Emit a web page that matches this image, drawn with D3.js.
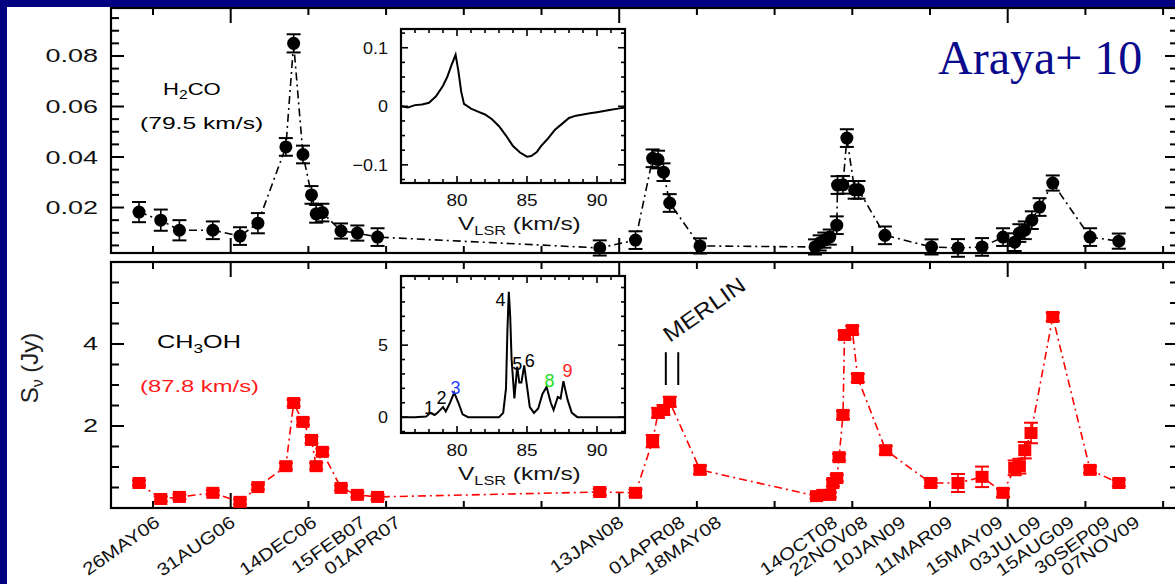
<!DOCTYPE html>
<html><head><meta charset="utf-8">
<script src="https://cdn.jsdelivr.net/npm/d3@7"></script>
<style>
html,body{margin:0;padding:0;background:#fff;width:1175px;height:584px;overflow:hidden;}
svg{display:block;position:absolute;left:0;top:0}
text{font-family:"Liberation Sans",Arial,Helvetica,sans-serif}
text.serif{font-family:"Liberation Serif","Times New Roman",serif}
</style></head><body>
<svg id="c" width="1175" height="584"></svg>
<script>
// ---------------- data ----------------
const h2coDates = ["2006-05-08","2006-06-05","2006-06-29","2006-08-11","2006-09-15","2006-10-08","2006-11-13","2006-11-23","2006-12-05","2006-12-16","2006-12-22","2006-12-30","2007-01-23","2007-02-13","2007-03-11","2007-12-22","2008-02-06","2008-02-28","2008-03-06","2008-03-13","2008-03-21","2008-04-29","2008-09-24","2008-09-30","2008-10-06","2008-10-13","2008-10-22","2008-10-23","2008-10-30","2008-11-04","2008-11-14","2008-11-19","2008-12-23","2009-02-21","2009-03-27","2009-04-27","2009-05-24","2009-06-08","2009-06-14","2009-06-21","2009-06-30","2009-07-10","2009-07-27","2009-09-13","2009-10-20"];
const h2coFlux = [0.0182,0.0150,0.0110,0.0110,0.0087,0.0138,0.0440,0.0850,0.0410,0.0250,0.0175,0.0180,0.0107,0.0099,0.0083,0.0040,0.0071,0.0395,0.0390,0.0340,0.0218,0.0048,0.0044,0.0060,0.0071,0.0083,0.0130,0.0289,0.0290,0.0475,0.0270,0.0270,0.0090,0.0044,0.0040,0.0044,0.0083,0.0063,0.0099,0.0110,0.0150,0.0202,0.0297,0.0083,0.0067];
const h2coErr  = [0.004,0.0042,0.004,0.0035,0.0035,0.004,0.0035,0.0036,0.0035,0.0035,0.0035,0.0035,0.003,0.003,0.0035,0.003,0.0035,0.0035,0.0035,0.0035,0.0035,0.003,0.003,0.003,0.003,0.003,0.0035,0.0035,0.0035,0.0035,0.0035,0.0035,0.0035,0.003,0.0035,0.0035,0.0035,0.0035,0.0035,0.0035,0.0035,0.0035,0.003,0.0035,0.003];

const ch3ohDates = ["2006-05-08","2006-06-05","2006-06-29","2006-08-11","2006-09-15","2006-10-08","2006-11-13","2006-11-23","2006-12-05","2006-12-16","2006-12-22","2006-12-30","2007-01-23","2007-02-13","2007-03-11","2007-12-22","2008-02-06","2008-02-28","2008-03-06","2008-03-13","2008-03-21","2008-04-29","2008-09-26","2008-10-04","2008-10-13","2008-10-17","2008-10-22","2008-10-25","2008-10-30","2008-11-01","2008-11-11","2008-11-18","2008-12-24","2009-02-20","2009-03-27","2009-04-27","2009-05-24","2009-06-08","2009-06-14","2009-06-21","2009-06-29","2009-07-27","2009-09-13","2009-10-20"];
const ch3ohFlux = [0.61,0.22,0.27,0.37,0.15,0.51,1.02,2.56,2.10,1.66,1.02,1.37,0.49,0.32,0.27,0.39,0.37,1.63,2.32,2.39,2.59,0.93,0.29,0.32,0.32,0.61,0.73,1.24,2.27,4.22,4.34,3.17,1.41,0.61,0.61,0.76,0.37,0.98,1.02,1.41,1.83,4.66,0.93,0.61];
const ch3ohErr  = [0.06,0.06,0.06,0.06,0.06,0.06,0.08,0.08,0.08,0.08,0.08,0.08,0.06,0.06,0.06,0.08,0.08,0.15,0.12,0.12,0.12,0.1,0.06,0.06,0.06,0.08,0.08,0.08,0.1,0.1,0.1,0.1,0.1,0.08,0.22,0.25,0.1,0.18,0.18,0.2,0.25,0.1,0.08,0.08];

const dateLabels = ["26MAY06","31AUG06","14DEC06","15FEB07","01APR07","13JAN08","01APR08","18MAY08","14OCT08","22NOV08","10JAN09","11MAR09","15MAY09","03JUL09","15AUG09","30SEP09","07NOV09"];
const dateLabelDates = ["2006-05-26","2006-08-31","2006-12-14","2007-02-15","2007-04-01","2008-01-13","2008-04-01","2008-05-18","2008-10-14","2008-11-22","2009-01-10","2009-03-11","2009-05-15","2009-07-03","2009-08-15","2009-09-30","2009-11-07"];

const merlinDates = ["2008-03-16","2008-04-01"];

// inset spectra
const h2coSpecVel  = [76.0,76.5,77.0,77.5,78.0,78.5,79.0,79.3,79.6,79.9,80.1,80.3,80.5,81.0,81.5,82.0,82.5,83.0,83.5,84.0,84.5,85.0,85.3,85.7,86.0,86.5,87.0,87.5,88.0,88.5,89.0,89.5,90.0,90.5,91.0,91.5,92.0];
const h2coSpecFlux = [0.000,-0.002,0.002,0.003,0.006,0.017,0.035,0.050,0.070,0.088,0.060,0.025,0.004,-0.004,-0.009,-0.014,-0.022,-0.034,-0.050,-0.068,-0.079,-0.086,-0.085,-0.078,-0.068,-0.055,-0.040,-0.030,-0.020,-0.016,-0.014,-0.012,-0.010,-0.008,-0.006,-0.004,-0.002];
const ch3ohSpecVel  = [76.0,77.0,77.8,78.1,78.4,78.6,79.0,79.2,79.5,79.8,80.1,80.4,80.8,83.0,83.3,83.5,83.6,83.7,83.8,83.9,84.1,84.3,84.45,84.6,84.8,84.95,85.2,85.5,85.8,86.1,86.4,86.7,86.9,87.2,87.4,87.6,87.9,88.2,88.6,92.0];
const ch3ohSpecFlux = [0.0,0.0,0.05,0.3,0.15,0.3,0.7,0.4,1.0,1.7,1.0,0.2,0.0,0.0,0.3,2.0,6.0,8.7,7.0,4.0,1.3,3.5,2.4,2.4,3.6,2.5,0.7,0.3,0.6,1.6,2.1,1.0,0.5,1.4,1.3,2.5,1.2,0.3,0.0,0.0];
const peakLabels = ["1","2","3","4","5","6","8","9"];
const peakVel    = [78.0,78.9,79.9,83.1,84.3,85.2,86.6,87.9];
const peakFlux   = [0.7,1.39,2.08,8.2,3.75,3.96,2.57,3.26];
const peakColors = ["#000","#000","#1f3fff","#000","#000","#000","#22e022","#ff2020"];

// -------------- layout --------------
const svg = d3.select("#c");
const W = 1175, H = 584;
svg.append("rect").attr("x",0).attr("y",0).attr("width",W).attr("height",H).attr("fill","#fff");
svg.append("rect").attr("x",0).attr("y",0).attr("width",W).attr("height",7).attr("fill","#000080");
svg.append("rect").attr("x",0).attr("y",0).attr("width",7).attr("height",H).attr("fill","#000080");

const parse = d3.utcParse("%Y-%m-%d");
const DAY = 864e5;
const t0 = parse("2006-05-26").getTime();
const L = 111, R = 1178;
const pxDay = 0.777;
const x = d3.scaleUtc()
  .domain([new Date(t0 - (153 - L)/pxDay*DAY), new Date(t0 + (R - 153)/pxDay*DAY)])
  .range([L, R]);

const topP = {y0: 8, y1: 253};
const botP = {y0: 262, y1: 508};
const yTop = d3.scaleLinear().domain([0.002, 0.099]).range([topP.y1, topP.y0]);
const yBot = d3.scaleLinear().domain([0, 6]).range([botP.y1, botP.y0]);

function txt(g, xx, yy, opts, build){
  const t = g.append("text")
    .attr("transform", `translate(${xx},${yy}) rotate(${opts.rot||0}) scale(${opts.sx||1},${opts.sy||1})`)
    .attr("font-size", opts.size||16)
    .attr("text-anchor", opts.anchor||"start")
    .attr("fill", opts.fill||"#000");
  if (opts.cls) t.attr("class", opts.cls);
  if (opts.dy) t.attr("dy", opts.dy);
  if (typeof build === "string") t.text(build); else build(t);
  return t;
}

const timeTicks = d3.range(0, 14).map(k => ({d: new Date(t0 + k*100*DAY), long: k % 5 === 1}));

function mainPanel(y, P, majors, minors, fmt){
  const g = svg.append("g");
  timeTicks.forEach(t => {
    const xx = x(t.d), len = t.long ? 15 : 7;
    g.append("line").attr("x1",xx).attr("x2",xx).attr("y1",P.y0).attr("y2",P.y0+len).attr("stroke","#000").attr("stroke-width",2);
    g.append("line").attr("x1",xx).attr("x2",xx).attr("y1",P.y1).attr("y2",P.y1-len).attr("stroke","#000").attr("stroke-width",2);
  });
  minors.forEach(v => {
    const yy = y(v);
    g.append("line").attr("x1",L).attr("x2",L+8).attr("y1",yy).attr("y2",yy).attr("stroke","#000").attr("stroke-width",2);
    g.append("line").attr("x1",R).attr("x2",R-8).attr("y1",yy).attr("y2",yy).attr("stroke","#000").attr("stroke-width",2);
  });
  majors.forEach(v => {
    const yy = y(v);
    g.append("line").attr("x1",L).attr("x2",L+13).attr("y1",yy).attr("y2",yy).attr("stroke","#000").attr("stroke-width",2);
    g.append("line").attr("x1",R).attr("x2",R-13).attr("y1",yy).attr("y2",yy).attr("stroke","#000").attr("stroke-width",2);
    txt(g, 98, yy, {size:18, sx:1.5, anchor:"end", dy:"0.36em", fill:"#111"}, fmt(v));
  });
  g.append("rect").attr("x",L).attr("y",P.y0).attr("width",R-L).attr("height",P.y1-P.y0)
    .attr("fill","none").attr("stroke","#000").attr("stroke-width",2.2);
  return g;
}

mainPanel(yTop, topP, [0.02,0.04,0.06,0.08], d3.range(1,20).map(i=>i*0.005).filter(v=>Math.round(v*1000)%20!==0), v=>d3.format(".2f")(v));
mainPanel(yBot, botP, [2,4], d3.range(1,12).map(i=>i*0.5).filter(v=>v!==2&&v!==4), v=>String(v));

// -------- series ----------
function series(dates, vals, errs, y, color, marker){
  const pts = dates.map((d,i)=>({d:parse(d), v:vals[i], e:errs[i]})).sort((a,b)=>a.d-b.d);
  const g = svg.append("g");
  const line = d3.line().x(p=>x(p.d)).y(p=>y(p.v));
  g.append("path").attr("d", line(pts)).attr("fill","none").attr("stroke",color)
    .attr("stroke-width",1.6).attr("stroke-dasharray","8,4,2,4");
  pts.forEach(p => {
    const xx = x(p.d), y1 = y(p.v - p.e), y2 = y(p.v + p.e);
    g.append("line").attr("x1",xx).attr("x2",xx).attr("y1",y1).attr("y2",y2).attr("stroke",color).attr("stroke-width",1.6);
    g.append("line").attr("x1",xx-7).attr("x2",xx+7).attr("y1",y1).attr("y2",y1).attr("stroke",color).attr("stroke-width",2);
    g.append("line").attr("x1",xx-7).attr("x2",xx+7).attr("y1",y2).attr("y2",y2).attr("stroke",color).attr("stroke-width",2);
  });
  pts.forEach(p => {
    const xx = x(p.d), yy = y(p.v);
    if (marker === "circle") g.append("circle").attr("cx",xx).attr("cy",yy).attr("r",6.5).attr("fill",color);
    else g.append("rect").attr("x",xx-6.5).attr("y",yy-6).attr("width",13).attr("height",12).attr("fill",color);
  });
}
series(h2coDates, h2coFlux, h2coErr, yTop, "#000", "circle");
series(ch3ohDates, ch3ohFlux, ch3ohErr, yBot, "#ff0000", "square");

// -------- panel labels ----------
txt(svg, 163, 95, {size:17, sx:1.3}, t => {
  t.append("tspan").text("H");
  t.append("tspan").attr("font-size",12).attr("dy",4).text("2");
  t.append("tspan").attr("dy",-4).text("CO");
});
txt(svg, 140, 129, {size:17, sx:1.45}, "(79.5 km/s)");
txt(svg, 157, 348, {size:19, sx:1.33}, t => {
  t.append("tspan").text("CH");
  t.append("tspan").attr("font-size",13).attr("dy",5).text("3");
  t.append("tspan").attr("dy",-5).text("OH");
});
txt(svg, 140, 392, {size:17, sx:1.4, fill:"#ff1a1a"}, "(87.8 km/s)");

// y label
txt(svg, 38, 368, {size:24, rot:-90, anchor:"middle", fill:"#222"}, t => {
  t.append("tspan").text("S");
  t.append("tspan").attr("font-size",16).attr("dy",5).text("ν");
  t.append("tspan").attr("dy",-5).text(" (Jy)");
});

// date labels
dateLabels.forEach((lab,i) => {
  txt(svg, x(parse(dateLabelDates[i])) + 8, 525, {size:17.5, sx:1.18, rot:-35, anchor:"end", fill:"#111"}, lab);
});

// MERLIN
merlinDates.forEach(d => {
  svg.append("line").attr("x1",x(parse(d))).attr("x2",x(parse(d)))
    .attr("y1",yBot(3.8)).attr("y2",yBot(3.0)).attr("stroke","#000").attr("stroke-width",2);
});
txt(svg, x(parse(merlinDates[0]))+4, 343, {size:22, sx:1.14, rot:-35, fill:"#111"}, "MERLIN");

// Araya
txt(svg, 938, 74, {size:48, cls:"serif", fill:"#0a0a8c"}, "Araya+ 10");

// -------- insets ----------
function inset(y0, y1, yDom, yMajor, yMinorStep, vel, flux, yfmt){
  const g = svg.append("g");
  const xs = d3.scaleLinear().domain([76,92]).range([401,625]);
  const ys = d3.scaleLinear().domain(yDom).range([y1, y0]);
  g.append("rect").attr("x",401).attr("y",y0).attr("width",224).attr("height",y1-y0).attr("fill","#fff");
  d3.range(76, 93, 1).forEach(v => {
    const len = v % 5 === 0 ? 7 : 4;
    g.append("line").attr("x1",xs(v)).attr("x2",xs(v)).attr("y1",y1).attr("y2",y1-len).attr("stroke","#000").attr("stroke-width",1.6);
    g.append("line").attr("x1",xs(v)).attr("x2",xs(v)).attr("y1",y0).attr("y2",y0+len).attr("stroke","#000").attr("stroke-width",1.6);
  });
  [80,85,90].forEach(v => txt(g, xs(v), y1+23, {size:17, sx:1.12, anchor:"middle", fill:"#111"}, String(v)));
  const minors = d3.range(Math.ceil(yDom[0]/yMinorStep), Math.floor(yDom[1]/yMinorStep)+1).map(k=>k*yMinorStep);
  minors.forEach(v => {
    const isMaj = yMajor.some(m => Math.abs(m-v) < 1e-9);
    const len = isMaj ? 7 : 4;
    g.append("line").attr("x1",401).attr("x2",401+len).attr("y1",ys(v)).attr("y2",ys(v)).attr("stroke","#000").attr("stroke-width",1.6);
    g.append("line").attr("x1",625).attr("x2",625-len).attr("y1",ys(v)).attr("y2",ys(v)).attr("stroke","#000").attr("stroke-width",1.6);
  });
  yMajor.forEach(v => txt(g, 388, ys(v), {size:17, sx:1.06, anchor:"end", dy:"0.36em", fill:"#111"}, yfmt(v)));
  g.append("path").attr("d", d3.line().x((d,i)=>xs(vel[i])).y((d,i)=>ys(flux[i]))(vel))
    .attr("fill","none").attr("stroke","#000").attr("stroke-width",2);
  g.append("rect").attr("x",401).attr("y",y0).attr("width",224).attr("height",y1-y0).attr("fill","none").attr("stroke","#000").attr("stroke-width",2.2);
  txt(g, 458, y1+47, {size:18, sx:1.36, fill:"#111"}, t => {
    t.append("tspan").text("V");
    t.append("tspan").attr("font-size",12).attr("dy",5).text("LSR");
    t.append("tspan").attr("dy",-5).text(" (km/s)");
  });
  return {g, xs, ys};
}
inset(29, 183, [-0.131, 0.132], [-0.1, 0, 0.1], 0.025, h2coSpecVel, h2coSpecFlux, v => v===0 ? "0" : (v<0 ? "\u22120.1" : "0.1"));
const ins2 = inset(276, 433, [-1.1, 9.8], [0, 5], 1, ch3ohSpecVel, ch3ohSpecFlux, v => String(v));
peakLabels.forEach((lab,i) => {
  txt(ins2.g, ins2.xs(peakVel[i]), ins2.ys(peakFlux[i]), {size:18, anchor:"middle", dy:"0.36em", fill:peakColors[i]}, lab);
});
</script>
</body></html>
